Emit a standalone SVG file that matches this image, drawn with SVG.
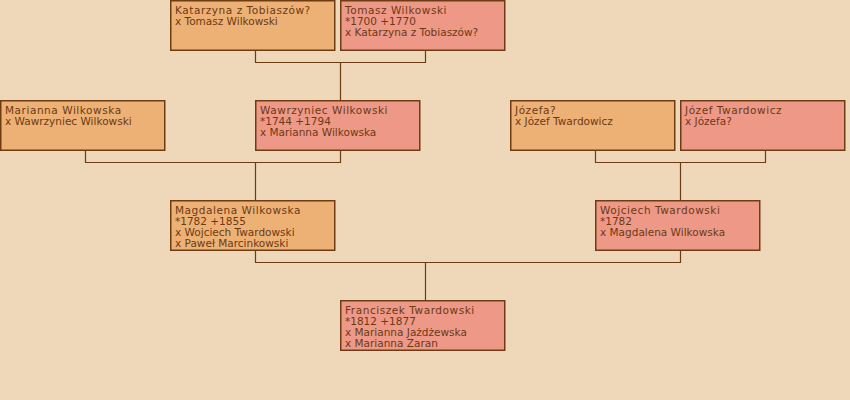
<svg xmlns="http://www.w3.org/2000/svg" width="850" height="400" viewBox="0 0 850 400">
<style>
.f{fill:#eeb175;stroke:#6e3c12;stroke-width:1.5}
.m{fill:#ee9988;stroke:#6e3c12;stroke-width:1.5}
text{font-family:"DejaVu Sans",sans-serif;fill:#6b3a14;font-size:10.5px}
.n{letter-spacing:0.55px}
.c{fill:none;stroke:#6e3c12;stroke-width:1.2}
</style>
<rect width="850" height="400" fill="#eed8b9"/>
<g id="connectors">
<path class="c" d="M255.5 50V62.5H425.5V50M340.5 62.5V100"/>
<path class="c" d="M85.5 150V162.5H340.5V150M255.5 162.5V200"/>
<path class="c" d="M595.5 150V162.5H765.5V150M680.5 162.5V200"/>
<path class="c" d="M255.5 250V262.5H680.5V250M425.5 262.5V300"/>
</g>
<g id="katarzyna"><rect class="f" x="170.75" y="0.75" width="164" height="49.5"/><text x="175" y="14"><tspan class="n">Katarzyna z Tobiaszów?</tspan><tspan x="175" dy="11">x Tomasz Wilkowski</tspan></text></g>
<g id="tomasz"><rect class="m" x="340.75" y="0.75" width="164" height="49.5"/><text x="345" y="14"><tspan class="n">Tomasz Wilkowski</tspan><tspan x="345" dy="11">*1700 +1770</tspan><tspan x="345" dy="11">x Katarzyna z Tobiaszów?</tspan></text></g>
<g id="marianna"><rect class="f" x="0.75" y="100.75" width="164" height="49.5"/><text x="5" y="114"><tspan class="n">Marianna Wilkowska</tspan><tspan x="5" dy="11">x Wawrzyniec Wilkowski</tspan></text></g>
<g id="wawrzyniec"><rect class="m" x="255.75" y="100.75" width="164" height="49.5"/><text x="260" y="114"><tspan class="n">Wawrzyniec Wilkowski</tspan><tspan x="260" dy="11">*1744 +1794</tspan><tspan x="260" dy="11">x Marianna Wilkowska</tspan></text></g>
<g id="jozefa"><rect class="f" x="510.75" y="100.75" width="164" height="49.5"/><text x="515" y="114"><tspan class="n">Józefa?</tspan><tspan x="515" dy="11">x Józef Twardowicz</tspan></text></g>
<g id="jozef"><rect class="m" x="680.75" y="100.75" width="164" height="49.5"/><text x="685" y="114"><tspan class="n">Józef Twardowicz</tspan><tspan x="685" dy="11">x Józefa?</tspan></text></g>
<g id="magdalena"><rect class="f" x="170.75" y="200.75" width="164" height="49.5"/><text x="175" y="214"><tspan class="n">Magdalena Wilkowska</tspan><tspan x="175" dy="11">*1782 +1855</tspan><tspan x="175" dy="11">x Wojciech Twardowski</tspan><tspan x="175" dy="11">x Paweł Marcinkowski</tspan></text></g>
<g id="wojciech"><rect class="m" x="595.75" y="200.75" width="164" height="49.5"/><text x="600" y="214"><tspan class="n">Wojciech Twardowski</tspan><tspan x="600" dy="11">*1782</tspan><tspan x="600" dy="11">x Magdalena Wilkowska</tspan></text></g>
<g id="franciszek"><rect class="m" x="340.75" y="300.75" width="164" height="49.5"/><text x="345" y="314"><tspan class="n">Franciszek Twardowski</tspan><tspan x="345" dy="11">*1812 +1877</tspan><tspan x="345" dy="11">x Marianna Jażdżewska</tspan><tspan x="345" dy="11">x Marianna Zaran</tspan></text></g>
</svg>
